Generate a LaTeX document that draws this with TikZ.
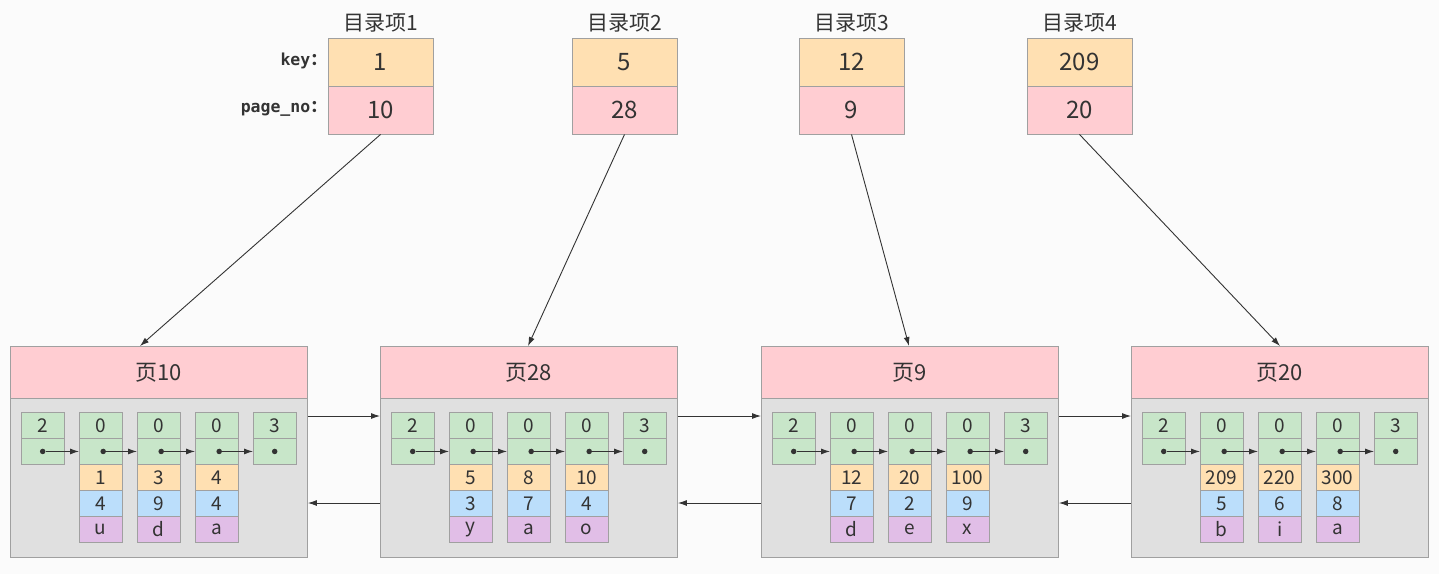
\documentclass[tikz,border=0pt]{standalone}
\usepackage{fontspec}
\setmainfont{Noto Sans CJK SC}
\newfontfamily\monob{DejaVu Sans Mono}
\newfontfamily\cjkf{Noto Sans CJK SC}
\usetikzlibrary{arrows.meta}
\definecolor{bgc}{HTML}{FBFBFB}
\definecolor{txt}{HTML}{333333}
\definecolor{orng}{HTML}{FFE0B2}
\definecolor{pnk}{HTML}{FFCDD2}
\definecolor{grn}{HTML}{C8E6C9}
\definecolor{blu}{HTML}{BBDEFB}
\definecolor{prp}{HTML}{E1BEE7}
\definecolor{gry}{HTML}{E0E0E0}
\definecolor{edge}{HTML}{A0A0A0}
\tikzset{
  box/.style={draw=edge, line width=0.9pt, inner sep=0pt, text=txt},
  keycell/.style={box, fill=orng, minimum width=105pt, minimum height=48pt, font=\fontsize{24}{24}\selectfont},
  pncell/.style={box, fill=pnk, minimum width=105pt, minimum height=48pt, font=\fontsize{24}{24}\selectfont},
  ttl/.style={text=txt, font=\fontsize{21}{21}\selectfont, inner sep=0pt},
  lbl/.style={text=txt, font=\monob\bfseries\fontsize{16.5}{16.5}\selectfont, inner sep=0pt, anchor=east},
  hdr/.style={box, fill=pnk, minimum width=297pt, minimum height=52pt, anchor=north west, font=\fontsize{22}{22}\selectfont},
  bodybox/.style={box, fill=gry, minimum width=297pt, minimum height=159pt, anchor=north west},
  cell/.style={box, minimum width=42.5pt, minimum height=26pt, anchor=north west, font=\fontsize{19}{19}\selectfont},
  arr/.style={draw=txt, line width=0.9pt, -{Latex[length=9pt,width=6pt]}},
  dotc/.style={circle, fill=txt, inner sep=0pt, minimum size=5.5pt},
}
\newcommand\pagebox[3]{% id, x offset, title
  \node[hdr] (#1h) at (#2+10,346) {#3};
  \node[bodybox] (#1b) at (#2+10,398) {};
  \foreach \j/\v in {0/2,1/0,2/0,3/0,4/3} {
    \node[cell, fill=grn] (#1t\j) at (#2+21+58*\j,412) {\v};
    \node[cell, fill=grn] (#1m\j) at (#2+21+58*\j,438) {};
  }
  \foreach \j/\dx in {0/0,1/2.5,2/2.5,3/2.5,4/0} {
    \node[dotc] (#1d\j) at ([xshift=\dx pt]#1m\j.center) {};
  }
  \foreach \j [evaluate=\j as \k using int(\j+1)] in {0,...,3} {
    \draw[arr] (#1d\j) -- (#1d\j -| #1m\k.west);
  }
}
\newcommand\rec[6]{% id, column, x offset, key, number, char
  \node[cell, fill=orng] (#1o#2) at (#3+21+58*#2,464) {#4};
  \node[cell, fill=blu] (#1u#2) at (#3+21+58*#2,490) {#5};
  \node[cell, fill=prp] (#1p#2) at (#3+21+58*#2,516) {#6};
}
\begin{document}
\begin{tikzpicture}[x=1pt,y=-1pt]
\fill[bgc] (0,0) rectangle (1439,574);
\useasboundingbox (0,0) rectangle (1439,574);

% directory entries
\foreach \i/\x/\k/\p in {1/380.5/1/10, 2/624.5/5/28, 3/851.5/12/9, 4/1079.5/209/20} {
  \node[ttl] (t\i) at (\x,23) {目录项\i};
  \node[keycell] (k\i) at (\x,62) {\k};
  \node[pncell] (n\i) at (\x,110) {\p};
}
\node[lbl] (lk) at (327,61) {key{\cjkf\bfseries ：}};
\node[lbl] (lp) at (327,109) {page\_no{\cjkf\bfseries ：}};

% pages
\pagebox{A}{0}{页10}
\rec{A}{1}{0}{1}{4}{u}
\rec{A}{2}{0}{3}{9}{d}
\rec{A}{3}{0}{4}{4}{a}

\pagebox{B}{370}{页28}
\rec{B}{1}{370}{5}{3}{y}
\rec{B}{2}{370}{8}{7}{a}
\rec{B}{3}{370}{10}{4}{o}

\pagebox{C}{751}{页9}
\rec{C}{1}{751}{12}{7}{d}
\rec{C}{2}{751}{20}{2}{e}
\rec{C}{3}{751}{100}{9}{x}

\pagebox{D}{1121}{页20}
\rec{D}{1}{1121}{209}{5}{b}
\rec{D}{2}{1121}{220}{6}{i}
\rec{D}{3}{1121}{300}{8}{a}

% directory pointers
\draw[arr] (n1.south) -- ([xshift=130pt]Ah.north west);
\draw[arr] (n2.south) -- ([xshift=148pt]Bh.north west);
\draw[arr] (n3.south) -- ([xshift=148pt]Ch.north west);
\draw[arr] (n4.south) -- ([xshift=149pt]Dh.north west);

% sibling links
\foreach \a/\b in {A/B, B/C, C/D} {
  \draw[arr] ([yshift=-18pt]\a b.north east) -- ([yshift=-18pt]\b b.north west);
  \draw[arr] ([yshift=-105pt]\b b.north west) -- ([yshift=-105pt]\a b.north east);
}
\end{tikzpicture}
\end{document}
